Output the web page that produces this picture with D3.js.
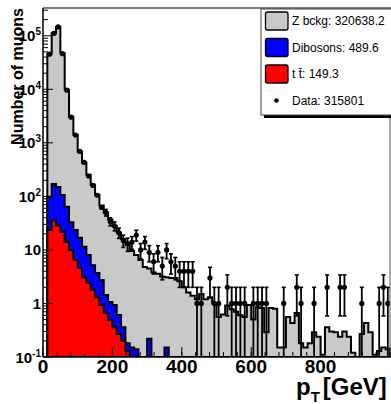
<!DOCTYPE html>
<html>
<head>
<meta charset="utf-8">
<script src="https://cdn.jsdelivr.net/npm/d3@7/dist/d3.min.js"></script>
<style>
  body { margin: 0; background: #fff; }
  svg { display: block; font-family: 'Liberation Sans', Arial, Helvetica, sans-serif; }
</style>
</head>
<body>
<div id="chart"></div>
<script>
// muon pT, 80 bins of 12.5 GeV from 0 to 1000
const binWidth = 12.5;

const zBckg = [
  0, 45900, 111800, 146800, 46900, 9740, 3030, 1390, 663, 412,
  245, 159, 103, 65, 48.6, 35.9, 27.1, 20.4, 15.6, 12.3,
  9.35, 7.86, 6.5, 4.8, 4.28, 3.8, 3.6, 3.2, 2.95, 3.0,
  3.0, 2.6, 2.0, 1.6, 1.4, 1.2, 1.5, 1.2, 1.3, 1.0,
  0.56, 0.62, 0.92, 0.78, 0.7, 0.6, 0.56, 0.94, 0.5, 0.85,
  0.82, 0.29, 0.82, 0.8, 0.15, 0.15, 0.56, 0.43, 0.66, 0.18,
  0.15, 0.18, 0.29, 0.24, 0.11, 0.36, 0.3, 0.29, 0.24, 0.3,
  0.24, 0.12, 0.05, 0.27, 0.43, 0.29, 0.11, 0.13, 0.15, 0.14
];

const dibosons = [
  0, 75, 135, 121, 85, 50, 23, 17, 12.2, 8.3,
  5.6, 3.4, 2.4, 1.8, 0.78, 0.57, 0.58, 0.34, 0.16, 0.05,
  0.15, 0.14, 0, 0, 0.22, 0, 0, 0, 0.15, 0,
  0, 0, 0, 0, 0, 0, 0, 0, 0, 0,
  0, 0, 0, 0, 0, 0, 0, 0, 0, 0,
  0, 0, 0, 0, 0, 0, 0, 0, 0, 0,
  0, 0, 0, 0, 0, 0, 0, 0, 0, 0,
  0, 0, 0, 0, 0, 0, 0, 0, 0, 0
];

const ttbar = [
  0, 23.6, 36, 29, 21.6, 14, 10, 6.5, 4.6, 3.1,
  2.4, 1.8, 1.3, 0.94, 0.66, 0.49, 0.36, 0.27, 0.2, 0.13,
  0, 0, 0, 0, 0, 0, 0, 0, 0, 0,
  0, 0, 0, 0, 0, 0, 0, 0, 0, 0,
  0, 0, 0, 0, 0, 0, 0, 0, 0, 0,
  0, 0, 0, 0, 0, 0, 0, 0, 0, 0,
  0, 0, 0, 0, 0, 0, 0, 0, 0, 0,
  0, 0, 0, 0, 0, 0, 0, 0, 0, 0
];

const dataCounts = [
  0, 45200, 110500, 146000, 46300, 9650, 3010, 1400, 690, 430,
  240, 160, 105, 62, 50, 34, 28, 21, 15, 13,
  14, 19, 10, 14, 9, 6, 9, 5, 10, 6,
  5, 4, 4, 4, 4, 1, 1, 0, 3, 1,
  1, 0, 2, 1, 1, 1, 1, 0, 1, 1,
  1, 1, 0, 0, 0, 1, 0, 0, 2, 1,
  0, 0, 1, 0, 0, 2, 0, 0, 2, 2,
  0, 0, 0, 1, 0, 0, 0, 1, 2, 1
];

const legendLabels = ['Z bckg: 320638.2', 'Dibosons: 489.6', 't t\u0304: 149.3', 'Data: 315801'];
const legendColors = ['#c9c9c9', '#0000ff', '#ff0000', null];
const xTicks = [0, 200, 400, 600, 800];
const yTicks = [0.1, 1, 10, 100, 1e3, 1e4, 1e5];

const width = 391, height = 404;
const mLeft = 43, mRight = 390, mTop = 8, mBottom = 357;

const x = d3.scaleLinear().domain([0, 1000]).range([mLeft, mRight]);
const y = d3.scaleLog().domain([0.1, 3.3e5]).range([mBottom, mTop]).clamp(true);
const yv = (v) => (v > 0 ? y(v) : mBottom);

const svg = d3.select('#chart').append('svg')
  .attr('width', width)
  .attr('height', height);

svg.append('rect').attr('width', width).attr('height', height).attr('fill', '#fff');

svg.append('clipPath').attr('id', 'plot-clip')
  .append('rect')
  .attr('x', mLeft).attr('y', mTop)
  .attr('width', mRight - mLeft).attr('height', mBottom - mTop);

const plot = svg.append('g').attr('clip-path', 'url(#plot-clip)');

// stacked sums: ttbar, ttbar+dibosons, everything
const redTop = ttbar.slice();
const blueTop = ttbar.map((v, i) => v + dibosons[i]);
const grayTop = blueTop.map((v, i) => v + zBckg[i]);

const stepPoints = (vals) => {
  const pts = [[x(0), mBottom]];
  vals.forEach((v, i) => {
    pts.push([x(i * binWidth), yv(v)]);
    pts.push([x((i + 1) * binWidth), yv(v)]);
  });
  pts.push([x(vals.length * binWidth), mBottom]);
  return pts;
};

const line = d3.line();

[[grayTop, '#c9c9c9'], [blueTop, '#0000ff'], [redTop, '#ff0000']].forEach(([vals, col]) => {
  plot.append('path')
    .attr('d', line(stepPoints(vals)) + 'Z')
    .attr('fill', col)
    .attr('stroke', '#000')
    .attr('stroke-width', 2)
    .attr('stroke-linejoin', 'miter');
});

// data points with sqrt(N) error bars
const pts = dataCounts
  .map((n, i) => ({ n, pt: (i + 0.5) * binWidth }))
  .filter((d) => d.n > 0);

const pg = plot.selectAll('.pt').data(pts).enter().append('g').attr('class', 'pt');

pg.each(function (d) {
  const g = d3.select(this);
  const cx = x(d.pt);
  const cy = y(d.n);
  const err = Math.sqrt(d.n);
  const hi = yv(d.n + err);
  const lo = yv(d.n - err);
  if (lo - hi > 6) {
    g.append('line').attr('x1', cx).attr('x2', cx).attr('y1', hi).attr('y2', lo)
      .attr('stroke', '#000').attr('stroke-width', 1.8);
    g.append('line').attr('x1', cx - 2).attr('x2', cx + 2).attr('y1', hi).attr('y2', hi)
      .attr('stroke', '#000').attr('stroke-width', 1.6);
    if (lo < mBottom - 1) {
      g.append('line').attr('x1', cx - 2).attr('x2', cx + 2).attr('y1', lo).attr('y2', lo)
        .attr('stroke', '#000').attr('stroke-width', 1.6);
    }
  }
  g.append('circle').attr('cx', cx).attr('cy', cy).attr('r', 2.6).attr('fill', '#000');
});

// frame
svg.append('line').attr('x1', mLeft).attr('x2', width).attr('y1', mTop).attr('y2', mTop)
  .attr('stroke', '#555').attr('stroke-width', 1.5);
svg.append('line').attr('x1', mRight).attr('x2', mRight).attr('y1', mTop).attr('y2', mBottom)
  .attr('stroke', '#555').attr('stroke-width', 1);

// y axis, ticks pointing inside
const yAxis = svg.append('g');
yAxis.append('line').attr('x1', mLeft).attr('x2', mLeft).attr('y1', mTop).attr('y2', mBottom)
  .attr('stroke', '#000').attr('stroke-width', 1.5);

const yMinor = [];
for (let e = -1; e <= 5; e++) {
  for (let m = 2; m <= 9; m++) {
    const v = m * Math.pow(10, e);
    if (v < 3.3e5) yMinor.push(v);
  }
}
yAxis.selectAll('.ymin').data(yMinor).enter().append('line')
  .attr('x1', mLeft).attr('x2', mLeft + 5)
  .attr('y1', (d) => y(d)).attr('y2', (d) => y(d))
  .attr('stroke', '#000').attr('stroke-width', 1);
yAxis.selectAll('.ymaj').data(yTicks).enter().append('line')
  .attr('x1', mLeft).attr('x2', mLeft + 10)
  .attr('y1', (d) => y(d)).attr('y2', (d) => y(d))
  .attr('stroke', '#000').attr('stroke-width', 1);

const yLab = yAxis.selectAll('.ylab').data(yTicks).enter().append('text')
  .attr('x', 41)
  .attr('y', (d) => y(d) + 5.5)
  .attr('text-anchor', 'end')
  .style('font-size', '15px')
  .style('font-weight', 'bold');
yLab.each(function (d) {
  const t = d3.select(this);
  const e = Math.round(Math.log10(d));
  if (e === 0) { t.text('1'); return; }
  if (e === 1) { t.text('10'); return; }
  t.append('tspan').text('10');
  t.append('tspan').attr('dy', -6).style('font-size', '10px').text(e);
});

// x axis, ticks pointing up
const xAxis = svg.append('g');
xAxis.append('line').attr('x1', mLeft).attr('x2', width).attr('y1', mBottom).attr('y2', mBottom)
  .attr('stroke', '#000').attr('stroke-width', 1.5);
xAxis.selectAll('.xmin').data(d3.range(0, 1001, 40)).enter().append('line')
  .attr('x1', (d) => x(d)).attr('x2', (d) => x(d))
  .attr('y1', mBottom).attr('y2', mBottom - 5)
  .attr('stroke', '#000').attr('stroke-width', 1);
xAxis.selectAll('.xmaj').data(xTicks.concat([1000])).enter().append('line')
  .attr('x1', (d) => x(d)).attr('x2', (d) => x(d))
  .attr('y1', mBottom).attr('y2', mBottom - 10)
  .attr('stroke', '#000').attr('stroke-width', 1);
xAxis.selectAll('.xlab').data(xTicks).enter().append('text')
  .attr('x', (d) => x(d))
  .attr('y', 373)
  .attr('text-anchor', 'middle')
  .style('font-size', '19px')
  .style('font-weight', 'bold')
  .text((d) => d);

// axis titles
svg.append('text')
  .attr('transform', 'translate(23,8) rotate(-90)')
  .attr('text-anchor', 'end')
  .style('font-size', '16px')
  .style('font-weight', 'bold')
  .text('Number of muons');

const xTitle = svg.append('text').attr('x', 296).attr('y', 395)
  .style('font-size', '24px').style('font-weight', 'bold');
xTitle.append('tspan').text('p');
xTitle.append('tspan').attr('dy', 7).style('font-size', '15px').text('T');
xTitle.append('tspan').attr('dy', -7).attr('dx', 3).text('[GeV]');

// legend
const lg = svg.append('g');
lg.append('rect').attr('x', 264).attr('y', 12).attr('width', 140).attr('height', 106).attr('fill', '#000');
lg.append('rect').attr('x', 261).attr('y', 9).attr('width', 140).attr('height', 106)
  .attr('fill', '#fff').attr('stroke', '#444').attr('stroke-width', 1);

legendLabels.forEach((label, i) => {
  const cy = 21 + i * 26.5;
  if (legendColors[i]) {
    lg.append('rect')
      .attr('x', 265.5).attr('y', cy - 9).attr('width', 22.5).attr('height', 18)
      .attr('rx', 2)
      .attr('fill', legendColors[i]).attr('stroke', '#000').attr('stroke-width', 1.3);
  } else {
    lg.append('circle').attr('cx', 276.5).attr('cy', cy).attr('r', 2.3).attr('fill', '#000');
  }
  lg.append('text')
    .attr('x', 292).attr('y', cy + 4.2)
    .style('font-size', '12px')
    .text(label);
});
</script>
</body>
</html>
